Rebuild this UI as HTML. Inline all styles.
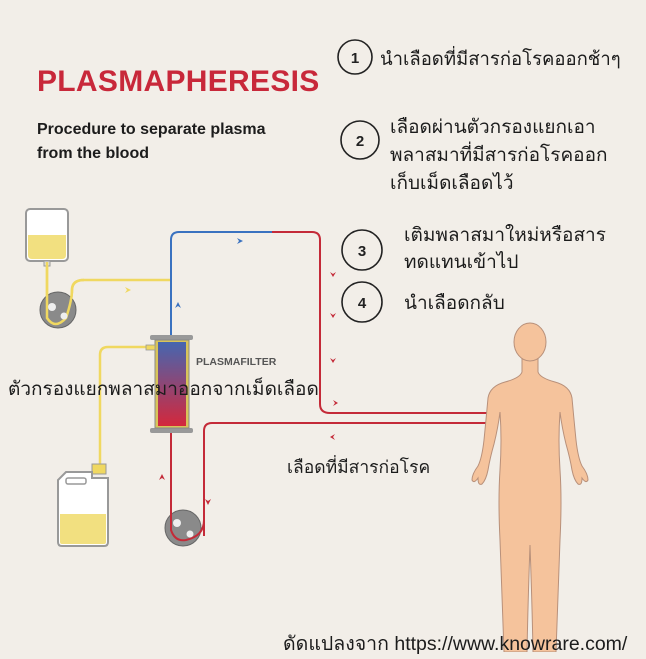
<!DOCTYPE html>
<html><head><meta charset="utf-8"><style>
body{margin:0;width:646px;height:652px;background:#f2eee8;overflow:hidden;position:relative;font-family:"Liberation Sans","Noto Sans CJK SC",sans-serif;color:#1c1c1c}
.t{position:absolute;white-space:nowrap;font-family:"Liberation Sans","Noto Sans CJK SC",sans-serif}
</style></head><body>
<svg width="646" height="652" style="position:absolute;left:0;top:0">
<defs><linearGradient id="g" x1="0" y1="0" x2="0" y2="1"><stop offset="0" stop-color="#4566b0"/><stop offset="1" stop-color="#d4283c"/></linearGradient></defs>
<g fill="none" stroke="#222" stroke-width="1.6">
<circle cx="355" cy="57" r="17"/><circle cx="360" cy="140" r="19"/><circle cx="362" cy="250" r="20"/><circle cx="362" cy="302" r="20"/>
</g>
<g font-family="Liberation Sans" font-weight="bold" font-size="15" text-anchor="middle" fill="#222">
<text x="355" y="63">1</text><text x="360" y="146">2</text><text x="362" y="256">3</text><text x="362" y="308">4</text></g>
<g fill="none" stroke="#f0d860" stroke-width="2.5">
<path d="M47 262 V318 Q55 330 66 318 Q72 300 72 290 Q72 280 84 280 H170"/>
<path d="M150 347 H108 Q100 347 100 355 V466"/>
</g>
<path d="M171 336 V240 Q171 232 179 232 H272" fill="none" stroke="#3a72c0" stroke-width="2"/>
<path d="M272 232 H312 Q320 232 320 240 V404 Q320 413 330 413 H488" fill="none" stroke="#c42a38" stroke-width="2"/>
<path d="M488 423 H212 Q204 423 204 431 V536" fill="none" stroke="#c42a38" stroke-width="2"/>
<path d="M171 430 V532" fill="none" stroke="#c42a38" stroke-width="2"/>
<g fill="#c42a38">
<path d="M333 277 l-3 -5 l3 2 l3 -2z"/><path d="M333 318 l-3 -5 l3 2 l3 -2z"/><path d="M333 363 l-3 -5 l3 2 l3 -2z"/>
<path d="M338 403 l-5 -3 l2 3 l-2 3z"/><path d="M330 437 l5 -3 l-2 3 l2 3z"/>
<path d="M162 474 l-3 6 l3 -2 l3 2z"/><path d="M208 505 l-3 -6 l3 2 l3 -2z"/></g>
<path d="M243 241 l-6 -3 l2 3 l-2 3z" fill="#3a72c0"/>
<path d="M178 302 l-3 6 l3 -2 l3 2z" fill="#3a72c0"/>
<path d="M131 290 l-6 -3 l2 3 l-2 3z" fill="#f0d860"/>
<rect x="26" y="209" width="42" height="52" rx="4" fill="#fff" stroke="#999" stroke-width="2"/>
<path d="M28 235 H66 V255 Q66 259 62 259 H32 Q28 259 28 255Z" fill="#f2e080"/>
<rect x="44" y="261" width="6" height="5" fill="#ddd" stroke="#999"/>
<circle cx="58" cy="310" r="18" fill="#8a8a8a" stroke="#666"/>
<path d="M47 262 V318 Q55 330 66 318 Q72 300 72 290 Q72 280 84 280" fill="none" stroke="#f0d860" stroke-width="2.5"/>
<circle cx="52" cy="307" r="4" fill="#eee"/><circle cx="64" cy="316" r="3.5" fill="#eee"/>
<rect x="92" y="464" width="14" height="10" fill="#f0d860" stroke="#999"/>
<path d="M66 472 H92 V478 H108 V542 Q108 546 104 546 H62 Q58 546 58 542 V480Z" fill="#fff" stroke="#999" stroke-width="2"/>
<rect x="66" y="478" width="20" height="6" rx="2" fill="#fff" stroke="#999" stroke-width="1.5"/>
<path d="M60 514 H106 V542 Q106 544 104 544 H62 Q60 544 60 542Z" fill="#f2e080"/>
<circle cx="183" cy="528" r="18" fill="#8a8a8a" stroke="#666"/>
<path d="M171 510 V530 Q175 542 186 540 Q204 536 204 520" fill="none" stroke="#c42a38" stroke-width="2"/>
<circle cx="177" cy="523" r="4" fill="#eee"/><circle cx="190" cy="534" r="3.5" fill="#eee"/>
<rect x="150" y="335" width="43" height="5" rx="2" fill="#999"/>
<rect x="150" y="428" width="43" height="5" rx="2" fill="#999"/>
<rect x="155" y="340" width="34" height="88" fill="#d8c45a" stroke="#888"/>
<rect x="158" y="342" width="28" height="84" fill="url(#g)"/>
<rect x="146" y="345" width="9" height="5" fill="#f0d860" stroke="#999" stroke-width=".8"/>
<g fill="#f5c39c" stroke="#b8907a" stroke-width="1">
<path d="M522 355 L522 372 Q520 378 505 382 Q490 386 488 398 Q486 420 484 440 Q482 458 478 466 Q472 474 472 480 Q474 484 478 478 Q478 486 482 484 Q486 480 488 470 Q490 458 494 444 Q498 428 500 412 Q502 440 500 470 Q498 500 500 540 Q502 600 504 652 H527 Q528 600 530 545 Q532 600 533 652 H556 Q558 600 560 540 Q562 500 560 470 Q558 440 560 412 Q562 428 566 444 Q570 458 572 470 Q574 480 578 484 Q582 486 582 478 Q586 484 588 480 Q588 474 582 466 Q578 458 576 440 Q574 420 572 398 Q570 386 555 382 Q540 378 538 372 L538 355Z"/>
<ellipse cx="530" cy="342" rx="16" ry="19"/>
</g>
<text x="196" y="365" font-family="Liberation Sans" font-weight="bold" font-size="10.5" fill="#555">PLASMAFILTER</text>
</svg>
<div class="t" style="left:37px;top:65px;font-size:30px;font-weight:bold;color:#c8283a;letter-spacing:0.3px">PLASMAPHERESIS</div>
<div class="t" style="left:37px;top:118px;font-size:16px;font-weight:bold;line-height:24px">Procedure to separate plasma<br>from the blood</div>
<div class="t" style="left:380px;top:45px;font-size:18.5px">นำเลือดที่มีสารก่อโรคออกช้าๆ</div>
<div class="t" style="left:390px;top:114px;font-size:19px;line-height:28px">เลือดผ่านตัวกรองแยกเอา<br>พลาสมาที่มีสารก่อโรคออก<br>เก็บเม็ดเลือดไว้</div>
<div class="t" style="left:404px;top:222px;font-size:19px;line-height:27px">เติมพลาสมาใหม่หรือสาร<br>ทดแทนเข้าไป</div>
<div class="t" style="left:404px;top:288px;font-size:19px">นำเลือดกลับ</div>
<div class="t" style="left:8px;top:374px;font-size:19px">ตัวกรองแยกพลาสมาออกจากเม็ดเลือด</div>
<div class="t" style="left:287px;top:453px;font-size:17.5px">เลือดที่มีสารก่อโรค</div>
<div class="t" style="left:283px;top:628px;font-size:19.5px">ดัดแปลงจาก https://www.knowrare.com/</div>
</body></html>
